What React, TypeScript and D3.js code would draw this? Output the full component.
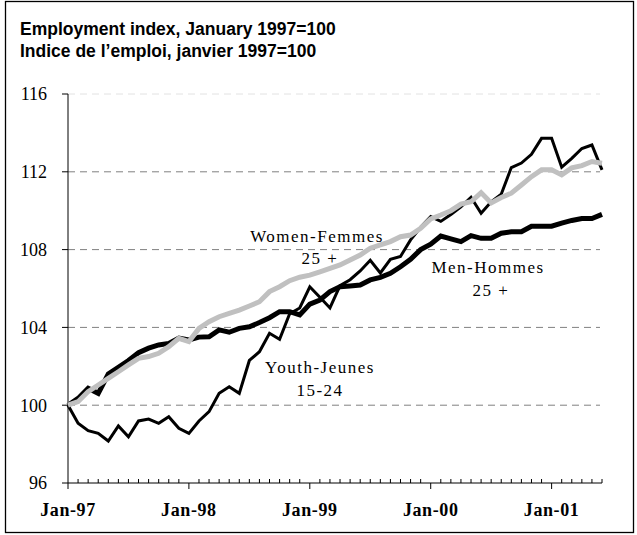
import { useEffect, useRef } from 'react';
import * as d3 from 'd3';

// monthly index, Jan-97 .. Jun-01 (Jan 1997 = 100)
const months = d3.timeMonths(new Date(1997, 0, 1), new Date(2001, 6, 1)).map(d3.timeFormat('%b-%y'));

const youth = [
  100.0, 99.07, 98.69, 98.55, 98.16, 98.93, 98.38, 99.19, 99.29, 99.07, 99.41, 98.81,
  98.55, 99.19, 99.67, 100.61, 100.95, 100.61, 102.3, 102.75, 103.7, 103.39, 104.7, 105.0,
  106.09, 105.55, 105.0, 106.15, 106.45, 106.9, 107.45, 106.8, 107.5, 107.65, 108.5, 109.15,
  109.7, 109.45, 109.8, 110.2, 110.69, 109.87, 110.46, 110.85, 112.22, 112.45, 112.9, 113.72,
  113.72, 112.24, 112.69, 113.2, 113.38, 112.1,
];

const men = [
  100.0, 100.35, 100.87, 100.61, 101.6, 101.95, 102.3, 102.7, 102.93, 103.1, 103.18, 103.45,
  103.35, 103.5, 103.52, 103.87, 103.75, 103.95, 104.03, 104.25, 104.5, 104.81, 104.81, 104.64,
  105.2, 105.41, 105.84, 106.09, 106.13, 106.18, 106.44, 106.57, 106.78, 107.12, 107.5, 108.0,
  108.28, 108.7, 108.55, 108.41, 108.72, 108.58, 108.58, 108.84, 108.92, 108.92, 109.2, 109.2,
  109.2, 109.36, 109.5, 109.6, 109.6, 109.81,
];

const women = [
  100.0, 100.18, 100.7, 101.04, 101.38, 101.72, 102.07, 102.41, 102.5, 102.67, 103.01, 103.44,
  103.27, 103.95, 104.29, 104.55, 104.72, 104.89, 105.1, 105.32, 105.84, 106.09, 106.4, 106.58,
  106.69, 106.86, 107.04, 107.21, 107.47, 107.72, 108.07, 108.24, 108.41, 108.66, 108.75, 109.1,
  109.58, 109.78, 110.0, 110.34, 110.46, 110.93, 110.4, 110.68, 110.9, 111.32, 111.75, 112.1,
  112.1, 111.84, 112.2, 112.32, 112.53, 112.44,
];

const yTicks = [96, 100, 104, 108, 112, 116];
const titleLines = ['Employment index, January 1997=100', 'Indice de l\u2019emploi, janvier 1997=100'];

const serif = "'Liberation Serif', 'Times New Roman', serif";
const sans = "'Liberation Sans', Arial, sans-serif";

const App = () => {
  const svgRef = useRef<SVGSVGElement>(null);

  useEffect(() => {
    const svg = d3.select(svgRef.current);
    svg.selectAll('*').remove();

    const x = d3.scaleLinear().domain([0, months.length - 1]).range([68, 602]);
    const y = d3.scaleLinear().domain([96, 116]).range([483, 94]);

    // outer frame
    svg.append('rect')
      .attr('x', 5.5).attr('y', 1.5)
      .attr('width', 628).attr('height', 531)
      .attr('fill', 'white')
      .attr('stroke', 'black')
      .attr('stroke-width', 1.3);

    svg.selectAll('.title')
      .data(titleLines)
      .enter()
      .append('text')
      .attr('x', 20)
      .attr('y', (d, i) => 35 + i * 22)
      .attr('font-family', sans)
      .attr('font-weight', 'bold')
      .attr('font-size', '17.5px')
      .text(d => d);

    // gridlines
    svg.selectAll('.grid')
      .data(yTicks.filter(t => t > 96))
      .enter()
      .append('line')
      .attr('x1', 68).attr('x2', 600)
      .attr('y1', d => y(d)).attr('y2', d => y(d))
      .attr('stroke', d => (d === 116 ? '#e2e2e2' : '#808080'))
      .attr('stroke-width', 1)
      .attr('stroke-dasharray', '7,5');

    // y axis
    const yAxis = svg.append('g');
    yAxis.append('line')
      .attr('x1', 68).attr('x2', 68)
      .attr('y1', y(116)).attr('y2', y(96))
      .attr('stroke', 'black');
    yAxis.selectAll('.ytick')
      .data(yTicks)
      .enter()
      .append('line')
      .attr('x1', 62).attr('x2', 68)
      .attr('y1', d => y(d)).attr('y2', d => y(d))
      .attr('stroke', 'black');
    yAxis.selectAll('.ylab')
      .data(yTicks)
      .enter()
      .append('text')
      .attr('x', 47)
      .attr('y', d => y(d))
      .attr('dy', '0.35em')
      .attr('text-anchor', 'end')
      .attr('font-family', serif)
      .attr('font-size', '18px')
      .text(d => d);

    // x axis
    const xAxis = svg.append('g');
    xAxis.append('line')
      .attr('x1', 68).attr('x2', 602)
      .attr('y1', y(96)).attr('y2', y(96))
      .attr('stroke', 'black');
    xAxis.selectAll('.xtick')
      .data(months)
      .enter()
      .append('line')
      .attr('x1', (d, i) => x(i)).attr('x2', (d, i) => x(i))
      .attr('y1', y(96))
      .attr('y2', d => (d.startsWith('Jan') ? y(96) + 6 : y(96) - 4))
      .attr('stroke', 'black');
    xAxis.selectAll('.xlab')
      .data(months.map((m, i) => ({ m, i })).filter(d => d.m.startsWith('Jan')))
      .enter()
      .append('text')
      .attr('x', d => x(d.i))
      .attr('y', 516)
      .attr('text-anchor', 'middle')
      .attr('font-family', serif)
      .attr('font-weight', 'bold')
      .attr('font-size', '18px')
      .attr('letter-spacing', '0.6px')
      .text(d => d.m);

    const line = d3.line<number>().x((d, i) => x(i)).y(d => y(d));

    const series = [
      { values: youth, color: 'black', width: 3 },
      { values: men, color: 'black', width: 5 },
      { values: women, color: '#c0c0c0', width: 5 },
    ];
    svg.selectAll('.series')
      .data(series)
      .enter()
      .append('path')
      .attr('d', d => line(d.values))
      .attr('fill', 'none')
      .attr('stroke', d => d.color)
      .attr('stroke-width', d => d.width)
      .attr('stroke-linejoin', 'miter');

    const labels = [
      { text: 'Women-Femmes', x: 317, y: 242 },
      { text: '25 +', x: 320, y: 264 },
      { text: 'Youth-Jeunes', x: 320, y: 373 },
      { text: '15-24', x: 320, y: 396 },
      { text: 'Men-Hommes', x: 488, y: 273 },
      { text: '25 +', x: 491, y: 296 },
    ];
    svg.selectAll('.lab')
      .data(labels)
      .enter()
      .append('text')
      .attr('x', d => d.x)
      .attr('y', d => d.y)
      .attr('text-anchor', 'middle')
      .attr('font-family', serif)
      .attr('font-size', '17px')
      .attr('letter-spacing', '1.5px')
      .text(d => d.text);

    return () => {
      svg.selectAll('*').remove();
    };
  }, []);

  return (
    <svg
      ref={svgRef}
      width={637}
      height={535}
      style={{ position: 'absolute', left: 0, top: 0, background: 'white' }}
    />
  );
};

export default App;
